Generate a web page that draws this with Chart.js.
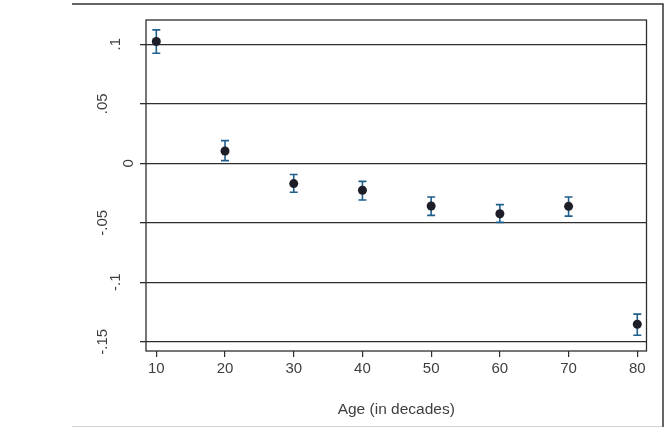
<!DOCTYPE html>
<html>
<head>
<meta charset="utf-8">
<title>Age coefficients</title>
<script src="https://cdn.jsdelivr.net/npm/chart.js@4.4.1/dist/chart.umd.min.js"></script>
<style>
  html, body { margin: 0; padding: 0; background: #fff; }
  canvas { display: block; }
</style>
</head>
<body>
<canvas id="ageChart" width="671" height="448"></canvas>
<script>
// Data
const ages = [10, 20, 30, 40, 50, 60, 70, 80];
const coef = [0.1023, 0.0103, -0.0171, -0.0227, -0.0359, -0.0424, -0.0362, -0.1353];
const ciLow = [0.0925, 0.0022, -0.0244, -0.0309, -0.0438, -0.0497, -0.0444, -0.1445];
const ciHigh = [0.1121, 0.0190, -0.0095, -0.0152, -0.0284, -0.0348, -0.0284, -0.1268];

const xTicks = [10, 20, 30, 40, 50, 60, 70, 80];
const yTicks = [-0.15, -0.1, -0.05, 0, 0.05, 0.1];
const yTickLabels = ['-.15', '-.1', '-.05', '0', '.05', '.1'];
const xTitle = 'Age (in decades)';

// Stata staggers the rotated y labels; number of blank lines pushes each one right
const yLabelShift = [0, 1, 0, 2, 0, 1];

const TEXT = '#3f3f3f';
const LINE = '#2e2e2e';
const FONT = '"Liberation Sans", Arial, sans-serif';

const errorBars = {
  id: 'errorBars',
  beforeDatasetsDraw(chart) {
    const { ctx, scales: { x, y } } = chart;
    ctx.save();
    ctx.strokeStyle = '#1f5f8b';
    ctx.lineWidth = 1.6;
    ages.forEach((a, i) => {
      const px = x.getPixelForValue(a);
      const top = y.getPixelForValue(ciHigh[i]);
      const bot = y.getPixelForValue(ciLow[i]);
      ctx.beginPath();
      ctx.moveTo(px, top); ctx.lineTo(px, bot);
      ctx.moveTo(px - 4, top); ctx.lineTo(px + 4, top);
      ctx.moveTo(px - 4, bot); ctx.lineTo(px + 4, bot);
      ctx.stroke();
    });
    ctx.restore();
  }
};

const frames = {
  id: 'frames',
  afterDraw(chart) {
    const { ctx, chartArea: a } = chart;
    ctx.save();
    // plot region box
    ctx.strokeStyle = LINE;
    ctx.lineWidth = 1.3;
    ctx.strokeRect(a.left, a.top, a.right - a.left, a.bottom - a.top);
    // outer window edges
    ctx.strokeStyle = '#333';
    ctx.lineWidth = 1.5;
    ctx.beginPath();
    ctx.moveTo(72, 4); ctx.lineTo(663, 4); ctx.lineTo(663, 427);
    ctx.stroke();
    ctx.strokeStyle = '#d4d4d4';
    ctx.lineWidth = 1;
    ctx.beginPath();
    ctx.moveTo(72, 426.5); ctx.lineTo(662, 426.5);
    ctx.stroke();
    ctx.restore();
  }
};

new Chart(document.getElementById('ageChart'), {
  type: 'scatter',
  data: {
    datasets: [{
      data: ages.map((a, i) => ({ x: a, y: coef[i] })),
      backgroundColor: '#1e1e28',
      borderWidth: 0,
      pointRadius: 4.5,
      pointHoverRadius: 4.5
    }]
  },
  options: {
    responsive: false,
    animation: false,
    layout: { padding: { left: 0, top: 20, right: 24.5, bottom: 0 } },
    plugins: {
      legend: { display: false },
      tooltip: { enabled: false }
    },
    scales: {
      x: {
        type: 'linear',
        min: 8.5,
        max: 81.34,
        afterFit: (s) => { s.height = 97; s.paddingLeft = 0; s.paddingRight = 0; },
        afterBuildTicks: (s) => { s.ticks = xTicks.map(v => ({ value: v })); },
        grid: { drawOnChartArea: false, drawTicks: true, tickLength: 6, color: LINE, lineWidth: 1.2 },
        border: { display: false },
        ticks: {
          color: TEXT,
          padding: 3,
          maxRotation: 0,
          font: { family: FONT, size: 15 }
        },
        title: {
          display: true,
          text: xTitle,
          color: TEXT,
          padding: { top: 0, bottom: 29 },
          font: { family: FONT, size: 15.5 }
        }
      },
      y: {
        type: 'linear',
        min: -0.1578,
        max: 0.1204,
        afterFit: (s) => { s.width = 146; s.paddingTop = 0; s.paddingBottom = 0; },
        afterBuildTicks: (s) => { s.ticks = yTicks.map(v => ({ value: v })); },
        grid: { drawTicks: true, tickLength: 6, color: LINE, lineWidth: 1.3 },
        border: { display: false },
        ticks: {
          color: TEXT,
          padding: 24,
          minRotation: 90,
          maxRotation: 90,
          crossAlign: 'center',
          font: { family: FONT, size: 15, lineHeight: '26px' },
          callback: (v) => {
            const k = yTicks.indexOf(v);
            const lines = [];
            for (let n = 0; n < yLabelShift[k]; n++) lines.push('');
            lines.push(yTickLabels[k]);
            return lines;
          }
        }
      }
    }
  },
  plugins: [errorBars, frames]
});
</script>
</body>
</html>
